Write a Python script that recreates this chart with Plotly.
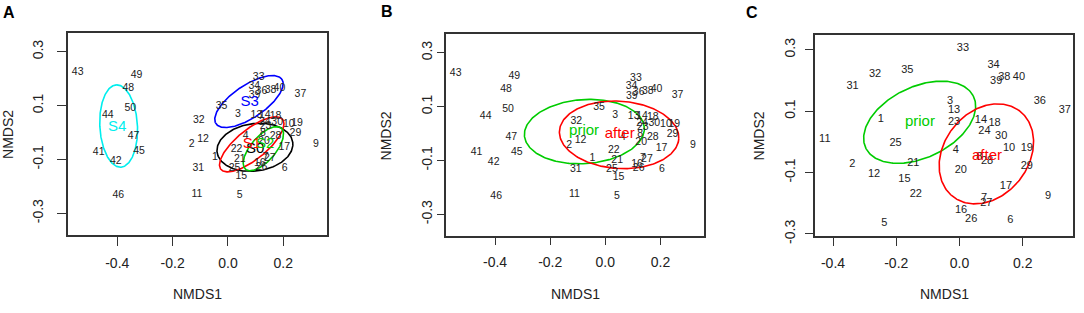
import numpy as np
import plotly.graph_objects as go

FONT = "Liberation Sans, Arial, sans-serif"
TXT = "#222222"

# ---------------- data: ordination of panels A and B (sites 1-50) ----------------
ab_sites = [str(i) for i in range(1, 51)]
ab_x = [-0.047, -0.131, 0.036, 0.064, 0.042, 0.205, 0.136, 0.126, 0.318, 0.220,
        -0.112, -0.090, 0.103, 0.133, 0.048, 0.115, 0.204, 0.172, 0.250, 0.130,
        0.043, 0.031, 0.136, 0.133, 0.024, 0.121, 0.151, 0.172, 0.244, 0.178,
        -0.107, -0.105, 0.111, 0.095, -0.023, 0.121, 0.262, 0.154, 0.096, 0.186,
        -0.467, -0.405, -0.543, -0.434, -0.321, -0.396, -0.341, -0.360, -0.330, -0.353]
ab_y = [-0.092, -0.044, 0.066, -0.016, -0.235, -0.132, -0.094, -0.004, -0.044, 0.032,
        -0.228, -0.026, 0.062, 0.064, -0.163, -0.116, -0.056, 0.059, 0.034, -0.034,
        -0.100, -0.062, 0.022, 0.038, -0.134, -0.130, -0.096, -0.016, -0.004, 0.038,
        -0.134, 0.046, 0.205, 0.173, 0.098, 0.151, 0.142, 0.157, 0.137, 0.163,
        -0.072, -0.108, 0.223, 0.065, -0.070, -0.232, -0.014, 0.163, 0.211, 0.088]

# ---------------- data: ordination of panel C (sites 1-40) ----------------
c_sites = [str(i) for i in range(1, 41)]
c_x = [-0.249, -0.339, -0.030, -0.012, -0.238, 0.161, 0.078, 0.063, 0.280, 0.157,
       -0.426, -0.270, -0.017, 0.068, -0.174, 0.005, 0.147, 0.111, 0.213, 0.004,
       -0.146, -0.138, -0.017, 0.079, -0.202, 0.037, 0.085, 0.087, 0.213, 0.132,
       -0.338, -0.267, 0.011, 0.108, -0.165, 0.254, 0.333, 0.142, 0.116, 0.188]
c_y = [0.073, -0.073, 0.134, -0.028, -0.264, -0.256, -0.184, -0.051, -0.177, -0.020,
       0.007, -0.104, 0.103, 0.070, -0.123, -0.222, -0.143, 0.061, -0.022, -0.094,
       -0.068, -0.169, 0.065, 0.034, -0.006, -0.251, -0.201, -0.063, -0.081, 0.018,
       0.182, 0.220, 0.304, 0.249, 0.235, 0.134, 0.103, 0.209, 0.198, 0.209]

# ---------------- group ellipses (centre, semi-axes, rotation in degrees) ----------------
a_groups = ["S0", "S1", "S2", "S3", "S4"]
a_cx = [0.0975, 0.086, 0.128, 0.076, -0.395]
a_cy = [-0.055, -0.044, -0.060, 0.115, 0.024]
a_sa = [0.138, 0.145, 0.100, 0.145, 0.153]
a_sb = [0.088, 0.055, 0.045, 0.060, 0.068]
a_ang = [8, 40, 50, 35, 93]
a_lx = [0.098, 0.087, 0.135, 0.079, -0.400]
a_ly = [-0.064, -0.045, -0.045, 0.111, 0.020]
a_col = ["#000000", "#ff0000", "#00cc00", "#0000ff", "#00eeee"]

b_groups = ["prior", "after"]
b_cx = [-0.076, 0.050]
b_cy = [0.007, -0.005]
b_sa = [0.218, 0.217]
b_sb = [0.119, 0.125]
b_ang = [4, -4]
b_lx = [-0.077, 0.052]
b_ly = [0.008, -0.004]

c_groups = ["prior", "after"]
c_cx = [-0.126, 0.085]
c_cy = [0.064, -0.039]
c_sa = [0.190, 0.175]
c_sb = [0.115, 0.135]
c_ang = [27, 55]
c_lx = [-0.125, 0.087]
c_ly = [0.063, -0.046]
bc_col = ["#00cc00", "#ff0000"]

x_ticks = [-0.4, -0.2, 0.0, 0.2]
x_ticktext = ["-0.4", "-0.2", "0.0", "0.2"]
y_ticks = [-0.3, -0.1, 0.1, 0.3]
y_ticktext = ["-0.3", "-0.1", "0.1", "0.3"]


def ellipse(cx, cy, a, b, ang):
    t = np.linspace(0, 2 * np.pi, 240)
    th = np.deg2rad(ang)
    ex = cx + a * np.cos(t) * np.cos(th) - b * np.sin(t) * np.sin(th)
    ey = cy + a * np.cos(t) * np.sin(th) + b * np.sin(t) * np.cos(th)
    return ex, ey


fig = go.Figure()


def add_panel(k, sx, sy, labels, fsize, groups, cx, cy, sa, sb, ang, lx, ly, cols, gsize):
    xa = "x" if k == 1 else f"x{k}"
    ya = "y" if k == 1 else f"y{k}"
    for i in range(len(groups)):
        ex, ey = ellipse(cx[i], cy[i], sa[i], sb[i], ang[i])
        fig.add_trace(go.Scatter(x=ex, y=ey, mode="lines", xaxis=xa, yaxis=ya,
                                 line=dict(color=cols[i], width=1.6), hoverinfo="skip",
                                 showlegend=False))
    fig.add_trace(go.Scatter(x=sx, y=sy, text=labels, mode="text", xaxis=xa, yaxis=ya,
                             textposition="middle center",
                             textfont=dict(family=FONT, size=fsize, color=TXT),
                             showlegend=False))
    for i in range(len(groups)):
        fig.add_trace(go.Scatter(x=[lx[i]], y=[ly[i]], text=[groups[i]], mode="text",
                                 xaxis=xa, yaxis=ya, textposition="middle center",
                                 textfont=dict(family=FONT, size=gsize, color=cols[i]),
                                 showlegend=False))


add_panel(1, ab_x, ab_y, ab_sites, 10.5, a_groups, a_cx, a_cy, a_sa, a_sb, a_ang,
          a_lx, a_ly, a_col, 15)
add_panel(2, ab_x, ab_y, ab_sites, 10.5, b_groups, b_cx, b_cy, b_sa, b_sb, b_ang,
          b_lx, b_ly, bc_col, 15)
add_panel(3, c_x, c_y, c_sites, 11, c_groups, c_cx, c_cy, c_sa, c_sb, c_ang,
          c_lx, c_ly, bc_col, 15)

W, H = 1084, 313


def xdom(l, r):
    return [l / W, r / W]


def ydom(t, b):
    return [1 - b / H, 1 - t / H]


common = dict(showline=True, mirror=True, linecolor="#333333", linewidth=1.5,
              ticks="outside", tickwidth=1.3, tickcolor="#333333", showgrid=False,
              zeroline=False, tickfont=dict(family=FONT, size=14, color=TXT))

panels = [
    # left, right, top, bottom, xrange, yrange, ticklen, ylabel standoff
    (68, 327, 34, 241, [-0.578, 0.358], [-0.38, 0.369], 9, 9),
    (446, 704, 35, 242, [-0.578, 0.358], [-0.38, 0.369], 7, 0),
    (815, 1073, 36, 242, [-0.457, 0.359], [-0.306, 0.348], 8, 5),
]
lay = {}
for k, (l, r, t, b, xr, yr, tl, ys) in enumerate(panels, start=1):
    xk = "xaxis" if k == 1 else f"xaxis{k}"
    yk = "yaxis" if k == 1 else f"yaxis{k}"
    ya = "y" if k == 1 else f"y{k}"
    xa = "x" if k == 1 else f"x{k}"
    lay[xk] = dict(common, domain=xdom(l, r), range=xr, anchor=ya, tickvals=x_ticks,
                   ticktext=x_ticktext, ticklen=tl, ticklabelstandoff=6)
    lay[yk] = dict(common, domain=ydom(t, b), range=yr, anchor=xa, tickvals=y_ticks,
                   ticktext=y_ticktext, ticklen=tl, tickangle=-90, ticklabelstandoff=ys)

fig.update_layout(width=W, height=H, margin=dict(l=0, r=0, t=0, b=0),
                  paper_bgcolor="white", plot_bgcolor="white", showlegend=False, **lay)

# axis titles and panel letters
for cxp, name in [(197.5, "NMDS1"), (575, "NMDS1"), (944, "NMDS1")]:
    fig.add_annotation(x=cxp / W, y=1 - 302 / H, xref="paper", yref="paper", text=name,
                       showarrow=False, font=dict(family=FONT, size=14, color=TXT),
                       xanchor="center", yanchor="middle")
for cxp, cyp in [(8.5, 138), (386, 140), (759, 140)]:
    fig.add_annotation(x=cxp / W, y=1 - cyp / H, xref="paper", yref="paper", text="NMDS2",
                       showarrow=False, textangle=-90,
                       font=dict(family=FONT, size=14, color=TXT),
                       xanchor="center", yanchor="middle")
for cxp, cyp, letter in [(9, 13, "A"), (387, 12, "B"), (752, 13, "C")]:
    fig.add_annotation(x=cxp / W, y=1 - cyp / H, xref="paper", yref="paper",
                       text=f"<b>{letter}</b>", showarrow=False,
                       font=dict(family=FONT, size=16, color="#000000"),
                       xanchor="center", yanchor="middle")

# remove the browser's default page margin so the figure fills the window exactly
fig.write_html("out.html", config={"displayModeBar": False},
               post_script="document.body.style.margin='0px';")
